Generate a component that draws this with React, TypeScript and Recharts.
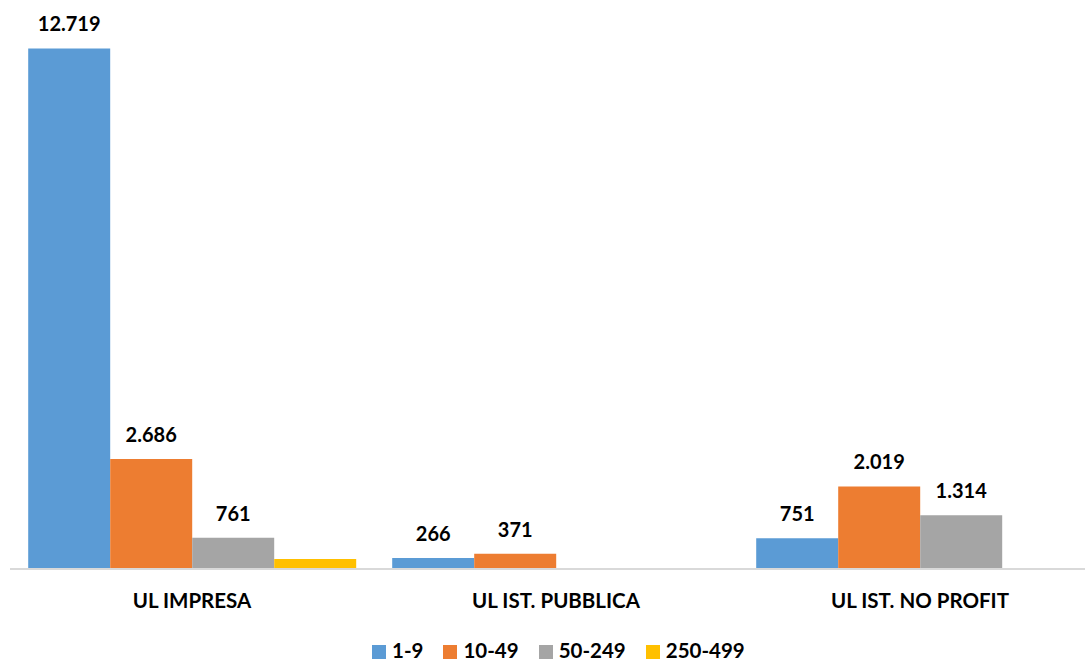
import React from "react";
import { BarChart, Bar, XAxis, YAxis, LabelList } from "recharts";

const categories = ["UL IMPRESA", "UL IST. PUBBLICA", "UL IST. NO PROFIT"];
const seriesNames = ["1-9", "10-49", "50-249", "250-499"];
const seriesColors = ["#5B9BD5", "#ED7D31", "#A5A5A5", "#FFC000"];
const values19: (number | null)[] = [12719, 266, 751];
const values1049: (number | null)[] = [2686, 371, 2019];
const values50249: (number | null)[] = [761, null, 1314];
const values250499: (number | null)[] = [245, null, null];
const showLabels = [true, true, true, false];

const seriesValues = [values19, values1049, values50249, values250499];

const data = categories.map((name, i) => {
  const row: Record<string, string | number | null> = { name };
  seriesNames.forEach((s, j) => {
    row[s] = seriesValues[j][i];
  });
  return row;
});

const fmt = (v: unknown) => {
  if (v === null || v === undefined) return "";
  return String(v).replace(/\B(?=(\d{3})+(?!\d))/g, ".");
};

const FONT = "Lato, 'Open Sans', sans-serif";

export default function App() {
  return (
    <div
      style={{
        position: "absolute",
        left: 0,
        top: 0,
        width: 1085,
        height: 663,
        overflow: "hidden",
        background: "#ffffff",
        fontFamily: FONT,
      }}
    >
      <BarChart
        width={1110}
        height={663}
        data={data}
        margin={{ top: 37, right: 8, left: 10, bottom: 34 }}
        barCategoryGap="5%"
        barGap={0}
      >
        <XAxis
          dataKey="name"
          height={60}
          axisLine={{ stroke: "#d9d9d9", strokeWidth: 2 }}
          tickLine={false}
          tickMargin={18}
          interval={0}
          tick={{ fill: "#000000", fontSize: 20.5, fontWeight: 700, fontFamily: FONT }}
        />
        <YAxis hide domain={[0, 13000]} />
        {seriesNames.map((s, j) => (
          <Bar key={s} dataKey={s} fill={seriesColors[j]} isAnimationActive={false}>
            {showLabels[j] && (
              <LabelList
                dataKey={s}
                position="top"
                offset={17}
                formatter={fmt}
                style={{ fill: "#000000", fontSize: 20, fontWeight: 700, fontFamily: FONT }}
              />
            )}
          </Bar>
        ))}
      </BarChart>
      <div
        style={{
          position: "absolute",
          left: 372,
          top: 640,
          height: 21,
          display: "flex",
          alignItems: "center",
          fontFamily: FONT,
          fontWeight: 700,
          fontSize: 20.5,
          color: "#000000",
          lineHeight: "21px",
        }}
      >
        {seriesNames.map((s, j) => (
          <div key={s} style={{ display: "flex", alignItems: "center", marginRight: 20 }}>
            <span
              style={{
                display: "inline-block",
                width: 14,
                height: 14,
                background: seriesColors[j],
                marginRight: 6,
                marginTop: 2,
              }}
            />
            <span>{s}</span>
          </div>
        ))}
      </div>
    </div>
  );
}
